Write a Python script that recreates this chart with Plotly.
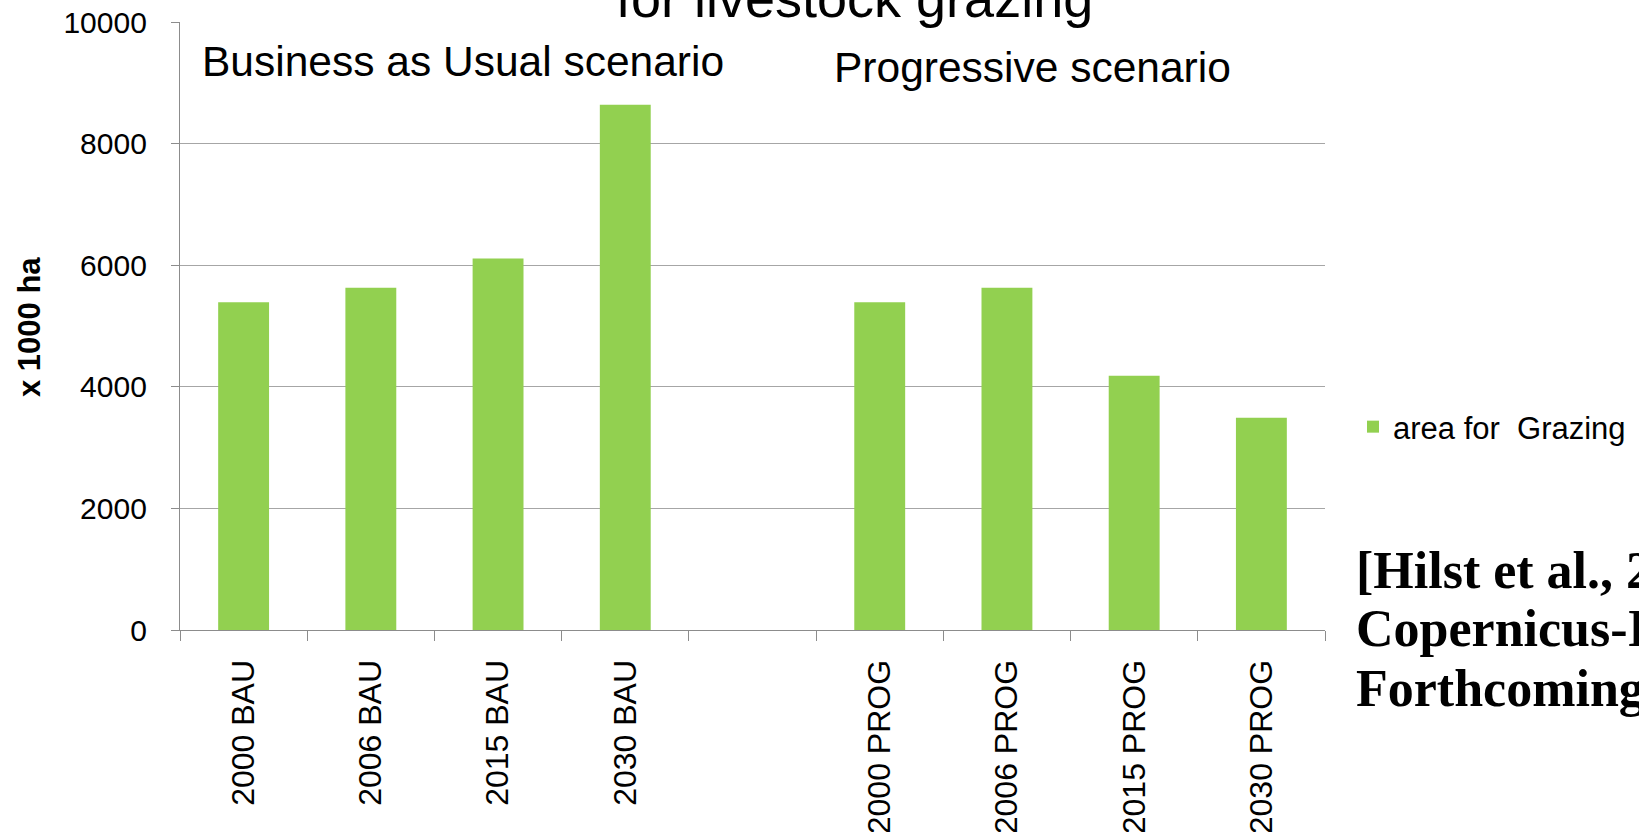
import plotly.graph_objects as go

# Grazing area per scenario year (x 1000 ha); the blank slot separates the two scenarios
categories = ["2000 BAU", "2006 BAU", "2015 BAU", "2030 BAU", " ",
              "2000 PROG", "2006 PROG", "2015 PROG", "2030 PROG"]
grazing_area = [5390, 5630, 6110, 8640, None, 5390, 5630, 4180, 3490]
y_ticks = [0, 2000, 4000, 6000, 8000, 10000]
series_name = "area for\u00a0 Grazing"

W, H = 1639, 832
PL, PR, PT, PB = 180, 1325, 22, 630  # plot area edges in pixels

def px_x(x):
    return (x - PL) / (PR - PL)

def px_y(y):
    return (PB - y) / (PB - PT)

SANS = "Liberation Sans, Arial, sans-serif"
SERIF = "Liberation Serif, Times New Roman, serif"
AXIS_GRAY = "#8c8c8c"

fig = go.Figure(
    go.Bar(
        x=categories,
        y=grazing_area,
        name=series_name,
        marker=dict(color="#92D050", line=dict(width=0)),
        showlegend=True,
    )
)

fig.update_layout(
    width=W,
    height=H,
    margin=dict(l=PL, r=W - PR, t=PT, b=H - PB, pad=0, autoexpand=False),
    paper_bgcolor="white",
    plot_bgcolor="white",
    bargap=0.6,
    font=dict(family=SANS, color="black"),
    showlegend=True,
    legend=dict(
        x=px_x(1353), xanchor="left",
        y=px_y(427), yanchor="middle",
        font=dict(size=31, family=SANS, color="black"),
        bgcolor="rgba(0,0,0,0)",
        itemwidth=30,
    ),
)

fig.update_xaxes(
    type="category",
    categoryorder="array",
    categoryarray=categories,
    tickson="boundaries",
    ticks="outside",
    ticklen=10,
    tickcolor=AXIS_GRAY,
    tickwidth=1.3,
    tickangle=-90,
    tickfont=dict(size=32, family=SANS, color="black"),
    ticklabelstandoff=16,
    showline=True,
    linecolor=AXIS_GRAY,
    linewidth=1.3,
    showgrid=False,
    zeroline=False,
    automargin=False,
)

fig.update_yaxes(
    range=[0, 10000],
    tickvals=y_ticks,
    tickformat="d",
    ticks="outside",
    ticklen=8,
    tickcolor=AXIS_GRAY,
    tickwidth=1.3,
    tickfont=dict(size=30, family=SANS, color="black"),
    ticklabelstandoff=18,
    showline=True,
    linecolor=AXIS_GRAY,
    linewidth=1.3,
    showgrid=True,
    gridcolor="#a6a6a6",
    gridwidth=1.3,
    zeroline=False,
    automargin=False,
)

annotations = [
    # chart title (its upper line runs off the top of the page)
    dict(text="for livestock grazing", x=px_x(854), y=px_y(-2),
         xanchor="center", yanchor="middle",
         font=dict(size=54, family=SANS, color="black")),
    dict(text="Business as Usual scenario", x=px_x(200), y=px_y(61),
         xanchor="left", yanchor="middle",
         font=dict(size=42.5, family=SANS, color="black")),
    dict(text="Progressive scenario", x=px_x(832), y=px_y(67),
         xanchor="left", yanchor="middle",
         font=dict(size=42.5, family=SANS, color="black")),
    # y-axis title
    dict(text="<b>x 1000 ha</b>", x=px_x(29), y=px_y(327), textangle=-90,
         xanchor="center", yanchor="middle",
         font=dict(size=31, family=SANS, color="black")),
    # source citation
    dict(text="<b>[Hilst et al., 2014,</b>", x=px_x(1354), y=px_y(570),
         xanchor="left", yanchor="middle",
         font=dict(size=52, family=SERIF, color="black")),
    dict(text="<b>Copernicus-Institute,</b>", x=px_x(1354), y=px_y(628),
         xanchor="left", yanchor="middle",
         font=dict(size=52, family=SERIF, color="black")),
    dict(text="<b>Forthcoming]</b>", x=px_x(1354), y=px_y(688),
         xanchor="left", yanchor="middle",
         font=dict(size=52, family=SERIF, color="black")),
]
for a in annotations:
    a.update(xref="paper", yref="paper", showarrow=False)
fig.update_layout(annotations=annotations)

fig.write_html("out.html")
